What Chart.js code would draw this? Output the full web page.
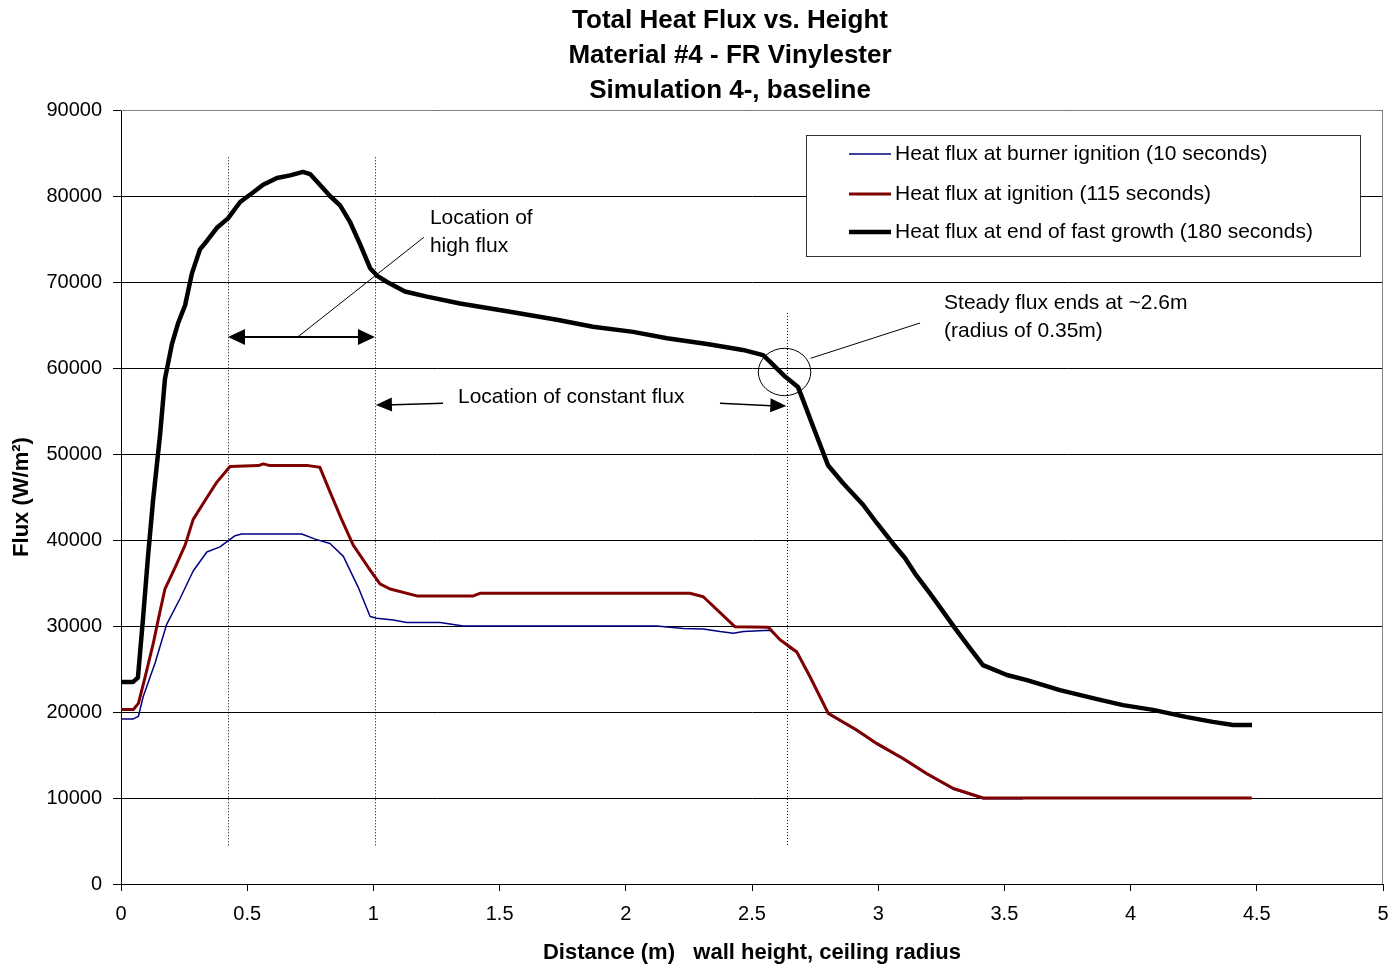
<!DOCTYPE html>
<html>
<head>
<meta charset="utf-8">
<script src="https://cdn.jsdelivr.net/npm/chart.js@4.4.0/dist/chart.umd.min.js"></script>
<style>
html,body{margin:0;padding:0;background:#fff;}
canvas{display:block;}
</style>
</head>
<body>
<canvas id="c" width="1395" height="972"></canvas>
<script>
// ---------- text ----------
const titleLines = ["Total Heat Flux vs. Height", "Material #4 - FR Vinylester", "Simulation 4-, baseline"];
const xAxisTitle = "Distance (m)   wall height, ceiling radius";
const yAxisTitle = "Flux (W/m\u00B2)";
const seriesNames = [
  "Heat flux at burner ignition (10 seconds)",
  "Heat flux at ignition (115 seconds)",
  "Heat flux at end of fast growth (180 seconds)"
];
const xTickValues = [0, 0.5, 1, 1.5, 2, 2.5, 3, 3.5, 4, 4.5, 5];
const yTickValues = [0, 10000, 20000, 30000, 40000, 50000, 60000, 70000, 80000, 90000];

// ---------- data ----------
const distBurner = [0, 0.049, 0.069, 0.088, 0.135, 0.181, 0.234, 0.286, 0.340, 0.392,
  0.452, 0.478, 0.716, 0.769, 0.828, 0.881, 0.940, 0.987, 1.013, 1.079,
  1.132, 1.264, 1.356, 2.122, 2.228, 2.307, 2.373, 2.426, 2.466, 2.571,
  2.651, 2.677, 2.730, 2.802, 2.915, 2.994, 3.099, 3.192, 3.298, 3.416, 3.574];
const fluxBurner = [19200, 19200, 19500, 21800, 25700, 30200, 33200, 36400, 38600, 39200,
  40500, 40700, 40700, 40100, 39600, 38100, 34500, 31100, 30900, 30700,
  30400, 30400, 30000, 30000, 29700, 29650, 29350, 29150, 29350, 29500,
  27400, 26900, 24000, 19750, 17800, 16250, 14500, 12750, 11000, 9900, 9900];

const distIgnition = [0, 0.049, 0.069, 0.095, 0.128, 0.148, 0.174, 0.214, 0.254, 0.286,
  0.333, 0.379, 0.432, 0.544, 0.564, 0.590, 0.742, 0.788, 0.828, 0.874,
  0.920, 0.980, 1.026, 1.066, 1.172, 1.396, 1.422, 2.254, 2.307, 2.433,
  2.565, 2.611, 2.677, 2.730, 2.802, 2.915, 2.994, 3.099, 3.192, 3.298, 3.416, 4.480];
const fluxIgnition = [20300, 20300, 21000, 24000, 28000, 30800, 34300, 36800, 39400, 42400,
  44600, 46700, 48550, 48650, 48850, 48650, 48650, 48450, 45600, 42400,
  39400, 36800, 34900, 34300, 33500, 33500, 33800, 33800, 33400, 29900,
  29850, 28400, 27000, 24100, 19850, 17900, 16350, 14600, 12850, 11100, 10000, 10000];

const distGrowth = [0, 0.048, 0.067, 0.087, 0.107, 0.127, 0.155, 0.174, 0.202, 0.226,
  0.254, 0.281, 0.313, 0.341, 0.380, 0.424, 0.472, 0.523, 0.563, 0.618,
  0.670, 0.721, 0.749, 0.788, 0.828, 0.868, 0.907, 0.947, 0.987, 1.014,
  1.054, 1.125, 1.212, 1.343, 1.541, 1.727, 1.870, 2.029, 2.163, 2.322,
  2.464, 2.544, 2.571, 2.631, 2.682, 2.702, 2.742, 2.801, 2.861, 2.940,
  2.995, 3.058, 3.106, 3.146, 3.205, 3.253, 3.304, 3.364, 3.415, 3.510,
  3.589, 3.720, 3.867, 3.970, 4.089, 4.223, 4.326, 4.406, 4.481];
const fluxGrowth = [23500, 23500, 24000, 30800, 38100, 44600, 52300, 58700, 62800, 65200,
  67300, 71000, 73800, 74800, 76300, 77400, 79300, 80400, 81300, 82100,
  82400, 82800, 82550, 81300, 80000, 78900, 77000, 74400, 71600, 70750,
  70000, 68900, 68300, 67500, 66550, 65600, 64800, 64200, 63450, 62800,
  62100, 61500, 60750, 59000, 57800, 56300, 53200, 48700, 46600, 44100,
  41950, 39600, 37900, 36100, 33800, 31850, 29750, 27400, 25450, 24300,
  23700, 22550, 21500, 20800, 20250, 19400, 18850, 18500, 18500];

// annotation anchors (data units)
const markerLinesX = [0.424, 1.006, 2.64];
const markerLinesTop = [84500, 84500, 66400];
const markerLinesBottom = 4500;
const highFluxLabel = ["Location of", "high flux"];
const constantFluxLabel = "Location of constant flux";
const steadyLabel = ["Steady flux ends at ~2.6m", "(radius of 0.35m)"];

const FONT = "'Liberation Sans', Arial, Helvetica, sans-serif";

function pts(xs, ys) { return xs.map((d, i) => ({ x: d, y: ys[i] })); }

const colors = ["#000080", "#800000", "#000000"];
const widths = [1.5, 3, 4.5];

const datasets = [
  { label: seriesNames[0], data: pts(distBurner, fluxBurner), borderColor: colors[0], borderWidth: widths[0], order: 3 },
  { label: seriesNames[1], data: pts(distIgnition, fluxIgnition), borderColor: colors[1], borderWidth: widths[1], order: 2 },
  { label: seriesNames[2], data: pts(distGrowth, fluxGrowth), borderColor: colors[2], borderWidth: widths[2], order: 1 }
].map(d => Object.assign(d, { pointRadius: 0, tension: 0, fill: false, borderJoinStyle: 'round', borderCapStyle: 'butt' }));

function arrowHead(ctx, tx, ty, fx, fy, len, half) {
  const ang = Math.atan2(ty - fy, tx - fx);
  ctx.beginPath();
  ctx.moveTo(tx, ty);
  ctx.lineTo(tx - len * Math.cos(ang) + half * Math.sin(ang), ty - len * Math.sin(ang) - half * Math.cos(ang));
  ctx.lineTo(tx - len * Math.cos(ang) - half * Math.sin(ang), ty - len * Math.sin(ang) + half * Math.cos(ang));
  ctx.closePath();
  ctx.fill();
}

const decor = {
  id: 'decor',
  beforeDatasetsDraw(chart) {
    const { ctx, chartArea: a, scales: { x, y } } = chart;
    ctx.save();
    // plot border (top/right, gray)
    ctx.strokeStyle = '#808080';
    ctx.lineWidth = 1;
    ctx.beginPath();
    ctx.moveTo(a.left, Math.round(a.top) + 0.5);
    ctx.lineTo(Math.round(a.right) - 0.5, Math.round(a.top) + 0.5);
    ctx.lineTo(Math.round(a.right) - 0.5, a.bottom);
    ctx.stroke();
    // dotted marker lines
    ctx.strokeStyle = '#000';
    ctx.setLineDash([1, 2]);
    markerLinesX.forEach((v, i) => {
      const px = Math.round(x.getPixelForValue(v)) + 0.5;
      ctx.beginPath();
      ctx.moveTo(px, y.getPixelForValue(markerLinesTop[i]));
      ctx.lineTo(px, y.getPixelForValue(markerLinesBottom));
      ctx.stroke();
    });
    ctx.restore();
  },
  afterDatasetsDraw(chart) {
    const { ctx, chartArea: a, scales: { x, y } } = chart;
    const X = v => x.getPixelForValue(v), Y = v => y.getPixelForValue(v);
    ctx.save();
    ctx.fillStyle = '#000';
    ctx.strokeStyle = '#000';
    // double arrow: high flux
    const ay = Y(63600), ax0 = X(markerLinesX[0]), ax1 = X(markerLinesX[1]);
    ctx.lineWidth = 2;
    ctx.beginPath(); ctx.moveTo(ax0 + 10, ay); ctx.lineTo(ax1 - 10, ay); ctx.stroke();
    arrowHead(ctx, ax0, ay, ax1, ay, 17, 8);
    arrowHead(ctx, ax1, ay, ax0, ay, 17, 8);
    // leader to label
    ctx.lineWidth = 1;
    ctx.beginPath(); ctx.moveTo(X(0.70), ay); ctx.lineTo(X(1.20), Y(75200)); ctx.stroke();
    // constant flux arrows
    ctx.lineWidth = 1.5;
    const l0 = [X(1.276), Y(55900)], l1 = [X(markerLinesX[1]) + 1, Y(55700)];
    ctx.beginPath(); ctx.moveTo(l0[0], l0[1]); ctx.lineTo(l1[0] + 10, l1[1]); ctx.stroke();
    arrowHead(ctx, l1[0], l1[1], l0[0], l0[1], 16, 7);
    const r0 = [X(2.373), Y(55900)], r1 = [X(markerLinesX[2]) - 1, Y(55580)];
    ctx.beginPath(); ctx.moveTo(r0[0], r0[1]); ctx.lineTo(r1[0] - 10, r1[1]); ctx.stroke();
    arrowHead(ctx, r1[0], r1[1], r0[0], r0[1], 16, 7);
    // circle around end of steady flux
    ctx.lineWidth = 1;
    const cx = X(2.629), cy = Y(59535);
    const rx = X(2.629 + 0.104) - cx, ry = cy - Y(59535 + 2756);
    ctx.beginPath(); ctx.ellipse(cx, cy, rx, ry, 0, 0, Math.PI * 2); ctx.stroke();
    ctx.beginPath(); ctx.moveTo(X(2.732), Y(61128)); ctx.lineTo(X(3.166), Y(65233)); ctx.stroke();
    // texts
    ctx.font = "21px " + FONT;
    ctx.textBaseline = 'middle';
    ctx.textAlign = 'left';
    ctx.fillText(highFluxLabel[0], X(1.224), Y(77440));
    ctx.fillText(highFluxLabel[1], X(1.224), Y(74186));
    ctx.fillText(constantFluxLabel, X(1.335), Y(56560));
    ctx.fillText(steadyLabel[0], X(3.261), Y(67558));
    ctx.fillText(steadyLabel[1], X(3.261), Y(64302));

    // legend box
    const bx = a.right - 23 - 554, by = a.top + 25, bw = 554, bh = 121;
    ctx.fillStyle = '#fff';
    ctx.fillRect(bx, by, bw, bh);
    ctx.strokeStyle = '#333';
    ctx.lineWidth = 1;
    ctx.strokeRect(Math.round(bx) + 0.5, Math.round(by) + 0.5, bw, bh);
    const rowY = [19, 59, 97];
    chart.data.datasets.forEach((ds, i) => {
      const ry2 = by + rowY[i];
      ctx.strokeStyle = ds.borderColor;
      ctx.lineWidth = ds.borderWidth;
      ctx.beginPath(); ctx.moveTo(bx + 43, ry2); ctx.lineTo(bx + 85, ry2); ctx.stroke();
      ctx.fillStyle = '#000';
      ctx.font = "21px " + FONT;
      ctx.textAlign = 'left';
      ctx.textBaseline = 'middle';
      ctx.fillText(ds.label, bx + 89, ry2);
    });
    ctx.restore();
  },
  afterDraw(chart) {
    const { ctx } = chart;
    ctx.save();
    ctx.fillStyle = '#000';
    ctx.font = "bold 26px " + FONT;
    ctx.textAlign = 'center';
    ctx.textBaseline = 'middle';
    titleLines.forEach((t, i) => ctx.fillText(t, 730, 21 + i * 35));
    ctx.restore();
  }
};

new Chart(document.getElementById('c'), {
  type: 'line',
  data: { datasets },
  options: {
    responsive: false,
    animation: false,
    events: [],
    layout: { padding: { top: 110, right: 12, bottom: 0, left: 0 } },
    plugins: { legend: { display: false }, tooltip: { enabled: false }, title: { display: false } },
    scales: {
      x: {
        type: 'linear', min: 0, max: 5,
        afterBuildTicks: s => { s.ticks = xTickValues.map(v => ({ value: v })); },
        afterFit: s => { s.height = 88; s.paddingRight = 0; s.paddingLeft = 0; },
        ticks: { callback: v => String(v), color: '#000', font: { size: 20, family: FONT }, padding: 11, maxRotation: 0, autoSkip: false },
        grid: { drawOnChartArea: false, drawTicks: true, tickLength: 7, color: '#000' },
        border: { display: true, color: '#000', width: 1 },
        title: { display: true, text: xAxisTitle, color: '#000', font: { size: 22, weight: 'bold', family: FONT }, padding: { top: 0, bottom: 6 } }
      },
      y: {
        type: 'linear', min: 0, max: 90000,
        afterBuildTicks: s => { s.ticks = yTickValues.map(v => ({ value: v })); },
        afterFit: s => { s.width = 121; s.paddingTop = 0; s.paddingBottom = 0; },
        ticks: { callback: v => String(v), color: '#000', font: { size: 20, family: FONT }, padding: 11, autoSkip: false },
        grid: { drawOnChartArea: true, drawTicks: true, tickLength: 8, color: '#000', lineWidth: 1 },
        border: { display: true, color: '#000', width: 1 },
        title: { display: true, text: yAxisTitle, color: '#000', font: { size: 22, weight: 'bold', family: FONT }, padding: { top: 9, bottom: 0 } }
      }
    }
  },
  plugins: [decor]
});
</script>
</body>
</html>
